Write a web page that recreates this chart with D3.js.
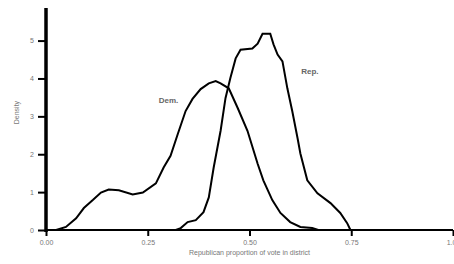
<!DOCTYPE html>
<html>
<head>
<meta charset="utf-8">
<script src="https://cdn.jsdelivr.net/npm/d3@7"></script>
<style>
  body { margin: 0; background: #fff; }
  text { font-family: "Liberation Sans", Arial, sans-serif; }
</style>
</head>
<body>
<svg id="density-chart"></svg>
<script>
// x ticks and y ticks
let xTicks = [0, 0.25, 0.5, 0.75, 1];
let yTicks = [0, 1, 2, 3, 4, 5];

// Democratic density curve (proportion, density)
let demX = [0, 0.025, 0.049, 0.074, 0.093, 0.115, 0.135, 0.154, 0.179, 0.213, 0.238, 0.270, 0.289,
  0.306, 0.324, 0.343, 0.360, 0.380, 0.400, 0.417, 0.429, 0.449, 0.471, 0.495, 0.520, 0.534,
  0.556, 0.576, 0.600, 0.625, 0.654, 0.669];
let demY = [0, 0, 0.08, 0.31, 0.58, 0.79, 0.99, 1.07, 1.05, 0.94, 0.99, 1.23, 1.65,
  1.96, 2.54, 3.14, 3.46, 3.72, 3.87, 3.93, 3.87, 3.74, 3.22, 2.62, 1.75, 1.31,
  0.79, 0.45, 0.21, 0.08, 0.05, 0];

// Republican density curve
let repX = [0.319, 0.331, 0.348, 0.368, 0.387, 0.400, 0.412, 0.429, 0.441, 0.453, 0.466, 0.478,
  0.507, 0.520, 0.532, 0.551, 0.559, 0.569, 0.581, 0.593, 0.605, 0.618, 0.625, 0.642, 0.667,
  0.699, 0.723, 0.740, 0.748];
let repY = [0, 0.05, 0.21, 0.26, 0.47, 0.86, 1.65, 2.62, 3.48, 4.01, 4.53, 4.76,
  4.79, 4.92, 5.18, 5.18, 4.90, 4.63, 4.45, 3.74, 3.14, 2.43, 2.02, 1.31, 0.97,
  0.71, 0.45, 0.18, 0];

let labels = [
  { name: 'Dem.', x: 0.277, y: 3.35 },
  { name: 'Rep.', x: 0.627, y: 4.12 }
];

let width = 454, height = 264;
let margin = { top: 8, right: 1, bottom: 34, left: 46 };
let plotWidth = width - margin.left - margin.right;
let plotHeight = height - margin.top - margin.bottom;

let svg = d3.select('#density-chart')
  .attr('width', width)
  .attr('height', height);

let xScale = d3.scaleLinear().domain([0, 1]).range([0, 407]);
let yScale = d3.scaleLinear().domain([0, 5.86]).range([plotHeight, 0]);

let plot = svg.append('g').attr('transform', translate(margin.left, margin.top));

// axes
let xAxis = d3.axisBottom(xScale).tickValues(xTicks).tickFormat(d3.format('.2f')).tickSize(6);
let xGroup = plot.append('g').attr('transform', translate(0, plotHeight)).call(xAxis);
xGroup.select('.domain').attr('d', 'M0,0H' + (plotWidth)).attr('stroke-width', 2);
xGroup.selectAll('.tick line').attr('stroke-width', 2);
xGroup.selectAll('.tick text').attr('font-size', 7).attr('dy', '0.9em').attr('fill', '#777');

let yAxis = d3.axisLeft(yScale).tickValues(yTicks).tickFormat(d3.format('d')).tickSize(8);
let yGroup = plot.append('g').call(yAxis);
yGroup.select('.domain').attr('d', 'M0,' + (plotHeight + 2) + 'V0').attr('stroke-width', 3.5);
yGroup.selectAll('.tick line').attr('stroke-width', 2);
yGroup.selectAll('.tick text').attr('font-size', 7).attr('x', -12).attr('fill', '#777');

// curves
let line = d3.line().x(d => xScale(d[0])).y(d => yScale(d[1]));
plot.append('path')
  .datum(d3.zip(demX, demY))
  .attr('fill', 'none').attr('stroke', '#000').attr('stroke-width', 2)
  .attr('d', line);
plot.append('path')
  .datum(d3.zip(repX, repY))
  .attr('fill', 'none').attr('stroke', '#000').attr('stroke-width', 2)
  .attr('d', line);

plot.selectAll('.curve-label')
  .data(labels)
  .join('text')
  .attr('class', 'curve-label')
  .attr('x', d => xScale(d.x))
  .attr('y', d => yScale(d.y))
  .attr('font-size', 8)
  .attr('font-weight', 'bold')
  .attr('fill', '#666')
  .text(d => d.name);

// axis titles
plot.append('text')
  .attr('x', xScale(0.5))
  .attr('y', plotHeight + 25)
  .attr('text-anchor', 'middle')
  .attr('font-size', 7)
  .attr('fill', '#777')
  .text('Republican proportion of vote in district');

plot.append('text')
  .attr('transform', 'rotate(-90)')
  .attr('x', -(yScale(3.1)))
  .attr('y', -27)
  .attr('text-anchor', 'middle')
  .attr('font-size', 7)
  .attr('fill', '#777')
  .text('Density');

// helper method to make translating easier
function translate(x, y) {
  return 'translate(' + x + ',' + y + ')';
}
</script>
</body>
</html>
